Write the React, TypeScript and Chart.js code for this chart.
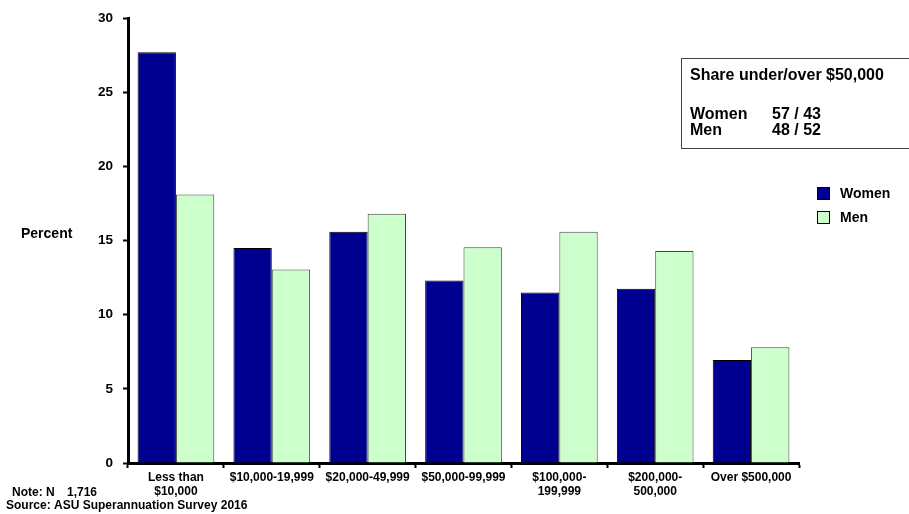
import React, { useEffect, useRef } from "react";
import { Chart, registerables } from "chart.js";

Chart.register(...registerables);

const categories: (string | string[])[] = [
  ["Less than", "$10,000"],
  "$10,000-19,999",
  "$20,000-49,999",
  "$50,000-99,999",
  ["$100,000-", "199,999"],
  ["$200,000-", "500,000"],
  "Over $500,000",
];
const women = [27.7, 14.5, 15.6, 12.3, 11.5, 11.75, 6.95];
const men = [18.1, 13.05, 16.8, 14.55, 15.6, 14.3, 7.8];
const yTicks = [0, 5, 10, 15, 20, 25, 30];

const FONT = "Arial, 'Liberation Sans', sans-serif";

const overlay = {
  id: "overlay",
  afterDraw(chart: any) {
    const ctx = chart.ctx;
    ctx.save();
    ctx.fillStyle = "#000";
    ctx.textBaseline = "middle";
    ctx.textAlign = "left";
    // axis title
    ctx.font = `bold 14px ${FONT}`;
    ctx.fillText("Percent", 21, 234);
    // notes
    ctx.font = `bold 12px ${FONT}`;
    ctx.fillText("Note: N", 12, 493);
    ctx.fillText("1,716", 67, 493);
    ctx.fillText("Source: ASU Superannuation Survey 2016", 6, 506);
    // annotation box
    ctx.strokeStyle = "#444";
    ctx.lineWidth = 1;
    ctx.strokeRect(681.5, 58.5, 240, 90);
    ctx.font = `bold 16px ${FONT}`;
    ctx.fillText("Share under/over $50,000", 690, 76);
    ctx.fillText("Women", 690, 115);
    ctx.fillText("57 / 43", 772, 115);
    ctx.fillText("Men", 690, 131);
    ctx.fillText("48 / 52", 772, 131);
    // legend
    const ds = chart.data.datasets;
    ctx.font = `bold 14px ${FONT}`;
    ds.forEach((d: any, i: number) => {
      const y = 187 + i * 24;
      ctx.fillStyle = d.backgroundColor;
      ctx.fillRect(817, y, 13, 13);
      ctx.strokeStyle = "#000";
      ctx.strokeRect(817.5, y + 0.5, 12, 12);
      ctx.fillStyle = "#000";
      ctx.fillText(d.label, 840, y + 7);
    });
    ctx.restore();
  },
};

export default function App() {
  const ref = useRef<HTMLCanvasElement | null>(null);
  useEffect(() => {
    if (!ref.current) return;
    const chart = new Chart(ref.current, {
      type: "bar",
      data: {
        labels: categories,
        datasets: [
          {
            label: "Women",
            data: women,
            backgroundColor: "#000090",
            borderColor: "#000000",
            borderWidth: 1,
            categoryPercentage: 0.8,
            barPercentage: 1.0,
          },
          {
            label: "Men",
            data: men,
            backgroundColor: "#CCFFCC",
            borderColor: "#444444",
            borderWidth: 1,
            categoryPercentage: 0.8,
            barPercentage: 1.0,
          },
        ],
      },
      options: {
        responsive: false,
        animation: false,
        layout: { padding: { left: 0, right: 110, top: 13, bottom: 0 } },
        plugins: {
          legend: { display: false },
          tooltip: { enabled: false },
        },
        scales: {
          x: {
            grid: {
              offset: true,
              drawOnChartArea: false,
              drawTicks: true,
              tickLength: 5,
              tickWidth: 2,
              tickColor: "#000",
            },
            border: { display: true, color: "#000", width: 3 },
            ticks: {
              color: "#000",
              font: { family: FONT, size: 12, weight: "bold" },
              maxRotation: 0,
              autoSkip: false,
              padding: 2,
            },
            afterFit: (s: any) => {
              s.height = 51;
            },
          },
          y: {
            min: 0,
            max: 30,
            afterBuildTicks: (s: any) => {
              s.ticks = yTicks.map((v) => ({ value: v }));
            },
            grid: {
              drawOnChartArea: false,
              drawTicks: true,
              tickLength: 5,
              tickWidth: 2,
              tickColor: "#000",
            },
            border: { display: true, color: "#000", width: 3 },
            ticks: {
              color: "#000",
              font: { family: FONT, size: 13.5, weight: "bold" },
              padding: 10,
            },
            afterFit: (s: any) => {
              s.width = 128;
            },
          },
        },
      },
      plugins: [overlay],
    });
    return () => chart.destroy();
  }, []);
  return (
    <div style={{ position: "absolute", left: 0, top: 0, width: 909, height: 514, background: "#fff" }}>
      <canvas ref={ref} width={909} height={514} style={{ width: 909, height: 514 }} />
    </div>
  );
}
